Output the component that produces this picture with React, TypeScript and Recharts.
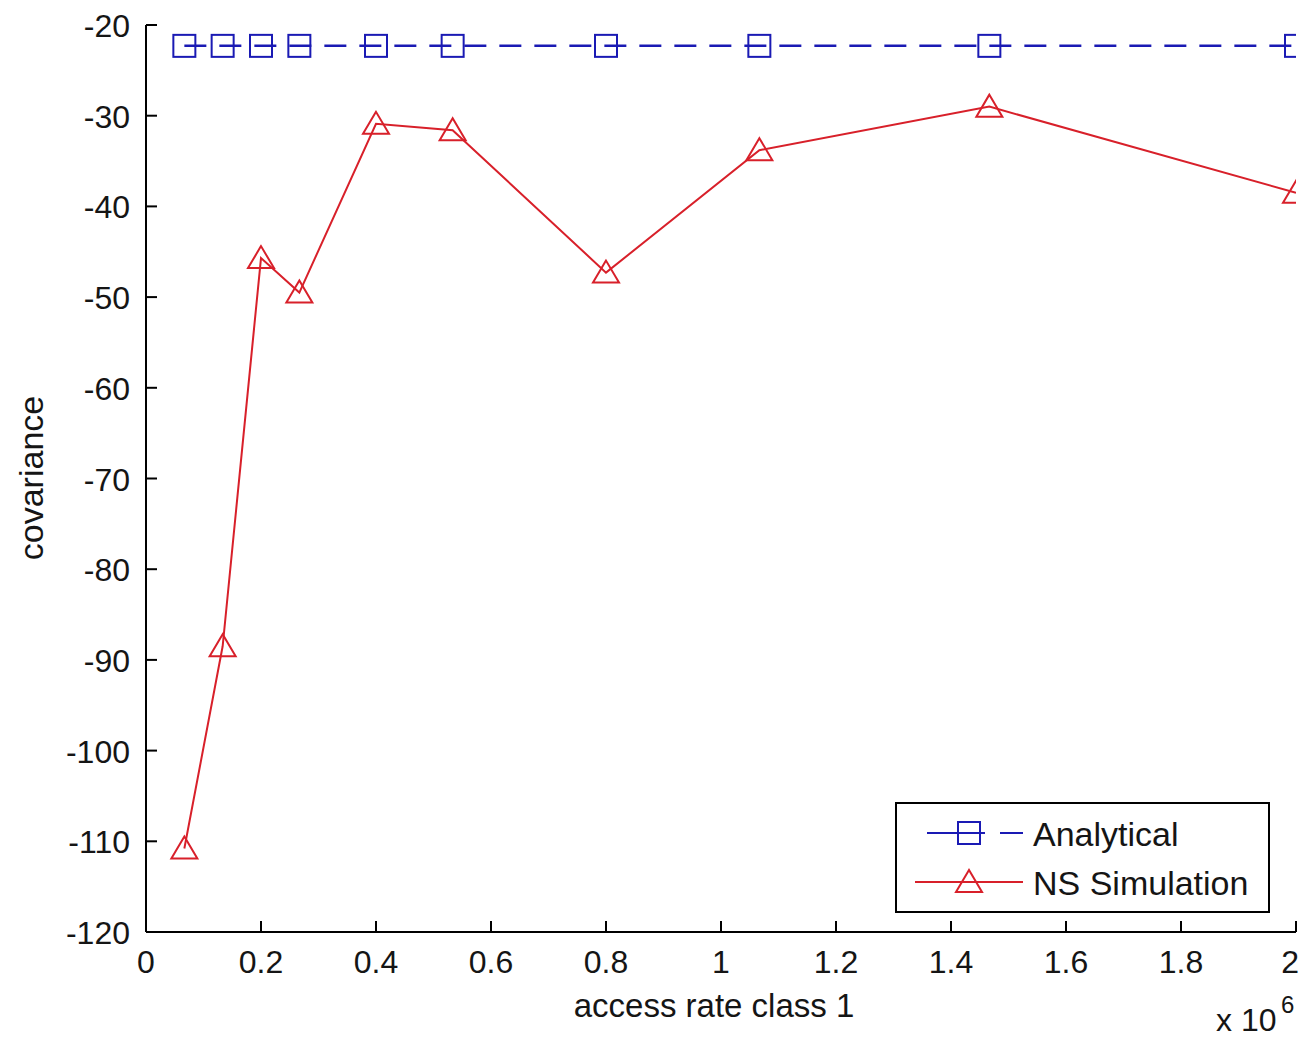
import { Legend, Line, LineChart, XAxis, YAxis } from "recharts";

// access rate class 1 (x 10^6)
const accessRate = [0.0667, 0.1333, 0.2, 0.2667, 0.4, 0.5333, 0.8, 1.0667, 1.4667, 2.0];
const analytical = [-22.3, -22.3, -22.3, -22.3, -22.3, -22.3, -22.3, -22.3, -22.3, -22.3];
const nsSimulation = [-110.8, -88.5, -45.7, -49.5, -30.9, -31.6, -47.3, -33.8, -29.0, -38.5];

const xTicks = [0, 0.2, 0.4, 0.6, 0.8, 1, 1.2, 1.4, 1.6, 1.8, 2];
const yTicks = [-120, -110, -100, -90, -80, -70, -60, -50, -40, -30, -20];

const data = accessRate.map((x, i) => ({
  x,
  analytical: analytical[i],
  ns: nsSimulation[i],
}));

const FONT = '"Liberation Sans", Arial, sans-serif';
const BLUE = "#1a1ab4";
const RED = "#d8202a";
const INK = "#151515";
const TICK = 11;

const fmtX = (v: number) => (Number.isInteger(v) ? String(v) : v.toFixed(1));

function BottomTick(props: any) {
  const { x, y, payload } = props;
  // last label sits on the page edge; pull it in so it stays readable
  const last = payload.value === 2;
  return (
    <g>
      <line x1={x} y1={y} x2={x} y2={y - TICK} stroke="#000" strokeWidth={2} />
      <text x={last ? x + 3 : x} y={y + 41} textAnchor={last ? "end" : "middle"}
        fontSize={32} fill={INK} fontFamily={FONT}>
        {fmtX(payload.value)}
      </text>
    </g>
  );
}

function TopTick(props: any) {
  const { x, y } = props;
  return <line x1={x} y1={y} x2={x} y2={y + TICK} stroke="#000" strokeWidth={2} />;
}

function LeftTick(props: any) {
  const { x, y, payload } = props;
  return (
    <g>
      <line x1={x} y1={y} x2={x + TICK} y2={y} stroke="#000" strokeWidth={2} />
      <text x={x - 16} y={y + 12} textAnchor="end" fontSize={32} fill={INK} fontFamily={FONT}>
        {payload.value}
      </text>
    </g>
  );
}

function RightTick(props: any) {
  const { x, y } = props;
  return <line x1={x} y1={y} x2={x - TICK} y2={y} stroke="#000" strokeWidth={2} />;
}

function square(props: any) {
  const { cx, cy, index } = props;
  return (
    <rect key={`sq-${index}`} x={cx - 11} y={cy - 11} width={22} height={22}
      fill="none" stroke={BLUE} strokeWidth={2} />
  );
}

function triangle(props: any) {
  const { cx, cy, index } = props;
  return (
    <polygon key={`tr-${index}`}
      points={`${cx},${cy - 12} ${cx - 13},${cy + 10} ${cx + 13},${cy + 10}`}
      fill="none" stroke={RED} strokeWidth={2} />
  );
}

function XTitle(props: any) {
  const { viewBox } = props;
  const base = viewBox.y + 85;
  return (
    <g fontFamily={FONT} fill={INK}>
      <text x={714} y={base} textAnchor="middle" fontSize={33}>
        access rate class 1
      </text>
      <text x={1216} y={1031} fontSize={32}>x 10</text>
      <text x={1281} y={1013} fontSize={24}>6</text>
    </g>
  );
}

function YTitle() {
  const cy = 478;
  const cx = 43;
  return (
    <text x={cx} y={cy} transform={`rotate(-90, ${cx}, ${cy})`} textAnchor="middle"
      fontSize={34} fill={INK} fontFamily={FONT}>
      covariance
    </text>
  );
}

function LegendBox(props: any) {
  const items = props.payload ?? [];
  return (
    <svg width={375} height={111} style={{ display: "block" }}>
      <rect x={1} y={1} width={373} height={109} fill="#fff" stroke="#000" strokeWidth={2} />
      {items.map((item: any, i: number) => {
        const cy = 31 + i * 49;
        const isBlue = i === 0;
        return (
          <g key={item.value}>
            {isBlue ? (
              <g stroke={BLUE} strokeWidth={2}>
                <line x1={32} y1={cy} x2={90} y2={cy} />
                <line x1={105} y1={cy} x2={128} y2={cy} />
                <rect x={63} y={cy - 11} width={22} height={22} fill="none" />
              </g>
            ) : (
              <g stroke={RED} strokeWidth={2}>
                <line x1={20} y1={cy} x2={128} y2={cy} />
                <polygon points={`74,${cy - 12} 61,${cy + 10} 87,${cy + 10}`} fill="none" />
              </g>
            )}
            <text x={138} y={cy + 13} fontSize={34} fill={INK} fontFamily={FONT}>
              {item.value}
            </text>
          </g>
        );
      })}
    </svg>
  );
}

export default function App() {
  return (
    <div style={{ position: "absolute", left: 0, top: 0, width: 1300, height: 1039, overflow: "hidden", background: "#fff" }}>
      <LineChart width={1300} height={1039} data={data}
        margin={{ top: 25, right: 4, left: 0, bottom: 0 }}>
        <XAxis dataKey="x" type="number" domain={[0, 2]} ticks={xTicks} height={107}
          tickSize={0} tickMargin={0} tickLine={false} tick={BottomTick}
          axisLine={{ stroke: "#000", strokeWidth: 2 }} interval={0}
          allowDataOverflow label={XTitle} />
        <XAxis xAxisId="top" orientation="top" dataKey="x" type="number" domain={[0, 2]}
          ticks={xTicks} height={0} tickSize={0} tickMargin={0} tickLine={false}
          tick={TopTick} axisLine={{ stroke: "#000", strokeWidth: 2 }} interval={0} />
        <YAxis type="number" domain={[-120, -20]} ticks={yTicks} width={146}
          tickSize={0} tickMargin={0} tickLine={false} tick={LeftTick}
          axisLine={{ stroke: "#000", strokeWidth: 2 }} interval={0}
          allowDataOverflow label={YTitle} />
        <YAxis yAxisId="right" orientation="right" type="number" domain={[-120, -20]}
          ticks={yTicks} width={0} tickSize={0} tickMargin={0} tickLine={false}
          tick={RightTick} axisLine={{ stroke: "#000", strokeWidth: 2 }} interval={0} />
        <Legend layout="vertical" align="center" verticalAlign="middle" content={LegendBox}
          wrapperStyle={{ position: "absolute", left: 895, top: 802, width: 375, height: 111 }} />
        <Line type="linear" dataKey="analytical" name="Analytical" stroke={BLUE}
          strokeWidth={2.5} strokeDasharray="22 13" dot={square} activeDot={false}
          isAnimationActive={false} />
        <Line type="linear" dataKey="ns" name="NS Simulation" stroke={RED}
          strokeWidth={2} dot={triangle} activeDot={false} isAnimationActive={false} />
      </LineChart>
    </div>
  );
}
